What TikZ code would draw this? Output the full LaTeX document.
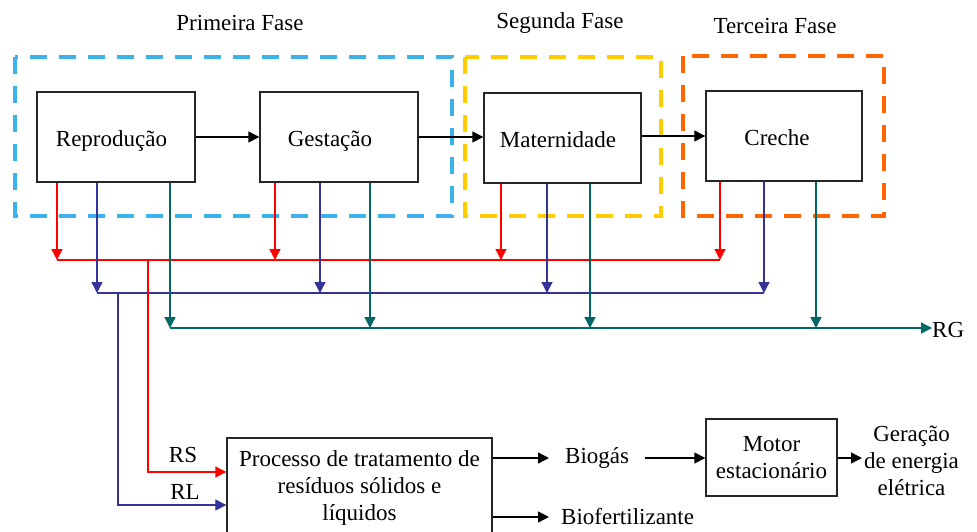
\documentclass[tikz,border=0pt]{standalone}
\usepackage{fontspec}
\setmainfont{Liberation Serif}
\usetikzlibrary{arrows.meta}
\definecolor{fasea}{RGB}{59,178,234}
\definecolor{faseb}{RGB}{255,204,0}
\definecolor{fasec}{RGB}{255,102,0}
\definecolor{cred}{RGB}{255,0,0}
\definecolor{cblue}{RGB}{51,51,153}
\definecolor{cteal}{RGB}{0,102,102}
\begin{document}
\begin{tikzpicture}[x=1pt,y=-1pt,
  every node/.style={font=\fontsize{23}{27}\selectfont},
  box/.style={draw=black!85, line width=1.4pt, inner sep=0pt, align=center},
  stage/.style={box, minimum height=90pt, text height=20pt, text depth=1pt},
  phase/.style={line width=4pt, dash pattern=on 17pt off 12pt},
  flow/.style={line width=1.4pt, -{Triangle[length=11pt,width=11pt]}},
  wr/.style={line width=1.3pt, color=#1, -{Triangle[length=11pt,width=11pt]}},
  wl/.style={line width=1.3pt, color=#1},
  plain/.style={inner sep=0pt}]
\useasboundingbox (0,0) rectangle (977,531);
\clip (0,0) rectangle (977,531);

% phase frames
\draw[phase, draw=fasea] (15,57) rectangle (452,216);
\draw[phase, draw=faseb] (465,57) rectangle (661,216);
\draw[phase, draw=fasec] (683,56) rectangle (884,216);

% titles
\node[plain] (t1) at (240,23) {Primeira Fase};
\node[plain] (t2) at (560,23) {Segunda Fase};
\node[plain] (t3) at (775,26) {Terceira Fase};

% stage boxes
\node[stage, minimum width=158pt] (rep) at (116,137) {Reprodução\hspace*{9pt}};
\node[stage, minimum width=158pt] (ges) at (339,137) {Gestação\hspace*{18pt}};
\node[stage, minimum width=157pt] (mat) at (562.5,138) {Maternidade\hspace*{9pt}};
\node[stage, minimum width=156pt, text height=19pt] (cre) at (784,136) {Creche\hspace*{14pt}};

\draw[flow] (rep.east) -- (ges.west);
\draw[flow] (ges.east) -- (ges.east -| mat.west);
\draw[flow] (mat.east |- cre.west) -- (cre.west);

% collector coordinates
\coordinate (r1) at (57,260);  \coordinate (r2) at (275,260);
\coordinate (r3) at (501,260); \coordinate (r4) at (720,260);
\coordinate (b1) at (97,293);  \coordinate (b2) at (320,293);
\coordinate (b3) at (547,293); \coordinate (b4) at (764,293);
\coordinate (g1) at (170,328); \coordinate (g2) at (370,328);
\coordinate (g3) at (590,328); \coordinate (g4) at (816,328);
\coordinate (rb) at (148,260);
\coordinate (bb) at (118,293);

% horizontal collectors
\draw[wl=cred] (r1) -- (r4);
\draw[wl=cblue] (b1) -- (b4);

% vertical drops
\foreach \s/\i in {rep/1,ges/2,mat/3,cre/4}{
  \draw[wr=cred] (\s.south -| r\i) -- (r\i);
  \draw[wr=cblue] (\s.south -| b\i) -- (b\i);
  \draw[wr=cteal] (\s.south -| g\i) -- (g\i);
}

% RG output
\node[plain, anchor=west] (rg) at (932,330) {RG};
\draw[wr=cteal] (g1) -- (rg.west |- g1);

% treatment process
\node[box, minimum width=265pt, minimum height=100pt] (proc) at (359.5,488)
  {Processo de tratamento de\\resíduos sólidos e\\líquidos};
\draw[wr=cred] (rb) |- ([yshift=16pt]proc.west);
\draw[wr=cblue] (bb) |- ([yshift=-17pt]proc.west);
\node[plain] (rs) at (183,455) {RS};
\node[plain] (rl) at (185,492) {RL};

% outputs
\node[anchor=west, inner xsep=16pt, inner ysep=0pt] (bg) at (549,458) {Biogás};
\node[anchor=west, inner xsep=12pt, inner ysep=0pt] (bf) at (549,517) {Biofertilizante};
\draw[flow] (proc.east |- bg.west) -- (bg.west);
\draw[flow] (proc.east |- bf.west) -- (bf.west);

\node[box, minimum width=131pt, minimum height=77pt] (mot) at (771.5,457.5)
  {Motor\\estacionário};
\draw[flow] (bg.east) -- (bg.east -| mot.west);
\node[anchor=west, inner xsep=2pt, inner ysep=0pt, align=center] (gen) at (862,461)
  {Geração\\de energia\\elétrica};
\draw[flow] (mot.east |- bg.east) -- (gen.west |- bg.east);
\end{tikzpicture}
\end{document}
